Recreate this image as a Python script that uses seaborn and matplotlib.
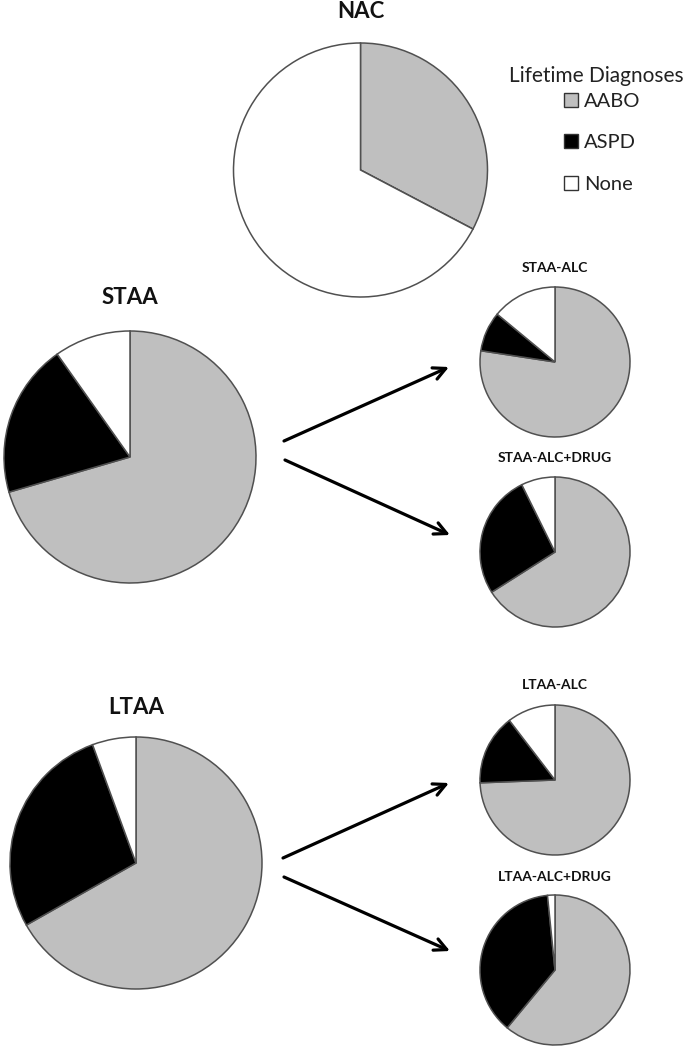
import matplotlib
matplotlib.use("Agg")
import matplotlib.pyplot as plt
from matplotlib.patches import Patch
import seaborn as sns

# ---- data ----
groups = ["NAC", "STAA", "STAA-ALC", "STAA-ALC+DRUG", "LTAA", "LTAA-ALC", "LTAA-ALC+DRUG"]
categories = ["AABO", "ASPD", "None"]
aabo = [32.7, 70.5, 77.4, 66.0, 66.8, 74.4, 61.0]
aspd = [0.0, 19.7, 8.6, 26.7, 27.6, 15.2, 37.4]
none = [67.3, 9.8, 14.0, 7.3, 5.6, 10.4, 1.6]
legend_title = "Lifetime Diagnoses"

# ---- styling / layout ----
sns.set_theme(style="white")
plt.rcParams["font.family"] = ["Lato", "DejaVu Sans"]
colors = ["#bfbfbf", "#000000", "#ffffff"]
edge = "#505050"

W, H = 695, 1050
fig = plt.figure(figsize=(W / 100, H / 100), dpi=100)

# overlay axes in pixel coordinates (titles, arrows)
ax0 = fig.add_axes([0, 0, 1, 1])
ax0.set_xlim(0, W)
ax0.set_ylim(H, 0)
ax0.axis("off")

# pie centres / radii in pixels, title positions and sizes
layout = {
    "NAC":           dict(c=(360.5, 170), r=127, ty=11,  fs=16),
    "STAA":          dict(c=(130, 457),   r=126, ty=297, fs=16),
    "STAA-ALC":      dict(c=(555, 362),   r=75,  ty=268, fs=10),
    "STAA-ALC+DRUG": dict(c=(555, 552),   r=75,  ty=458, fs=10),
    "LTAA":          dict(c=(136, 863),   r=126, ty=707, fs=16),
    "LTAA-ALC":      dict(c=(555, 780),   r=75,  ty=685, fs=10),
    "LTAA-ALC+DRUG": dict(c=(555, 970),   r=75,  ty=877, fs=10),
}

for i, g in enumerate(groups):
    L = layout[g]
    cx, cy = L["c"]
    s = L["r"] * 1.25
    ax = fig.add_axes([(cx - s) / W, 1 - (cy + s) / H, 2 * s / W, 2 * s / H])
    vals = [aabo[i], aspd[i], none[i]]
    ax.pie(vals, colors=colors, startangle=90, counterclock=False,
           wedgeprops=dict(edgecolor=edge, linewidth=1.1))
    ax.set_aspect("equal")
    ax0.text(cx, L["ty"], g, ha="center", va="center",
             fontsize=L["fs"], fontweight="bold", color="#111111")

# arrows (pixel coordinates)
arrows = [((284, 441), (449, 367)), ((285, 460), (450, 535)),
          ((283, 858), (449, 783)), ((284, 877), (450, 951))]
for start, tip in arrows:
    ax0.annotate("", xy=tip, xytext=start,
                 arrowprops=dict(arrowstyle="->", lw=2.3, color="black",
                                 mutation_scale=22, shrinkA=0, shrinkB=0))

# legend
ax0.text(596, 76, legend_title, ha="center", va="center", fontsize=15, color="#222222")
handles = [Patch(facecolor=c, edgecolor="#333333", linewidth=1.0) for c in colors]
leg = fig.legend(handles, categories, loc="upper left",
                 bbox_to_anchor=(564 / W, 1 - 93 / H), frameon=False,
                 borderaxespad=0, borderpad=0,
                 fontsize=14.5, labelspacing=1.2,
                 handlelength=0.7, handleheight=0.7, handletextpad=0.3)
for t in leg.get_texts():
    t.set_color("#222222")

fig.savefig("out.png", dpi=100)
